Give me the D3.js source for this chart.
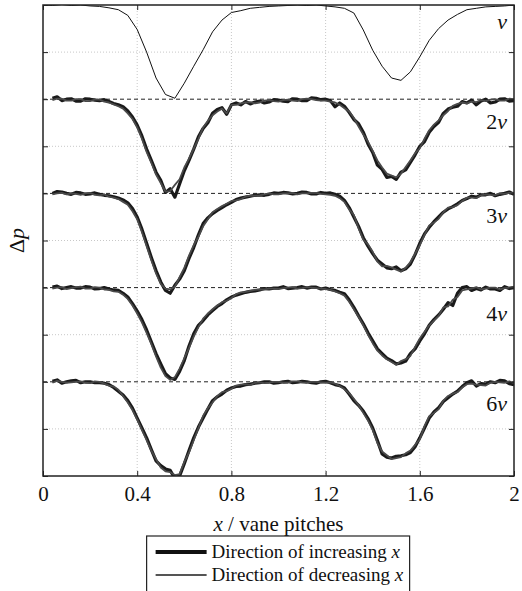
<!DOCTYPE html>
<html>
<head>
<meta charset="utf-8">
<script src="https://cdn.jsdelivr.net/npm/d3@7"></script>
<style>
  body { margin: 0; background: #fff; }
  text { font-family: "Liberation Serif", "Times New Roman", serif; fill: #111; }
</style>
</head>
<body>
<div id="graph"></div>
<script>
// sample positions along the traverse (vane pitches)
var xsCoarse = [0, 0.04, 0.08, 0.12, 0.16, 0.2, 0.24, 0.28, 0.32, 0.36, 0.4, 0.44, 0.48, 0.52, 0.56, 0.6, 0.64, 0.68, 0.72, 0.76,
  0.8, 0.84, 0.88, 0.92, 0.96, 1.0, 1.04, 1.08, 1.12, 1.16, 1.2, 1.24, 1.28, 1.32, 1.36, 1.4, 1.44, 1.48, 1.52, 1.56,
  1.6, 1.64, 1.68, 1.72, 1.76, 1.8, 1.84, 1.88, 1.92, 1.96, 2.0];
var xsFine = [0, 0.02, 0.04, 0.06, 0.08, 0.1, 0.12, 0.14, 0.16, 0.18,
  0.2, 0.22, 0.24, 0.26, 0.28, 0.3, 0.32, 0.34, 0.36, 0.38,
  0.4, 0.42, 0.44, 0.46, 0.48, 0.5, 0.52, 0.54, 0.56, 0.58,
  0.6, 0.62, 0.64, 0.66, 0.68, 0.7, 0.72, 0.74, 0.76, 0.78,
  0.8, 0.82, 0.84, 0.86, 0.88, 0.9, 0.92, 0.94, 0.96, 0.98,
  1.0, 1.02, 1.04, 1.06, 1.08, 1.1, 1.12, 1.14, 1.16, 1.18,
  1.2, 1.22, 1.24, 1.26, 1.28, 1.3, 1.32, 1.34, 1.36, 1.38,
  1.4, 1.42, 1.44, 1.46, 1.48, 1.5, 1.52, 1.54, 1.56, 1.58,
  1.6, 1.62, 1.64, 1.66, 1.68, 1.7, 1.72, 1.74, 1.76, 1.78,
  1.8, 1.82, 1.84, 1.86, 1.88, 1.9, 1.92, 1.94, 1.96, 1.98, 2.0];

// trace names and vertical offsets (grid units)
var traceNames = ["v", "2v", "3v", "4v", "6v"];
var traceOffsets = [0, -2, -4, -6, -8];
var xTicks = [0, 0.4, 0.8, 1.2, 1.6, 2];

// Δp relative to each trace baseline, grid units
var pV = [0.00, -0.01, 0.01, -0.01, 0.00, -0.02, -0.03, -0.06, -0.10, -0.22, -0.52, -1.00, -1.55, -1.90, -1.98, -1.66, -1.30, -0.95, -0.57, -0.32,
  -0.16, -0.12, -0.07, -0.05, -0.03, -0.02, -0.01, 0.00, -0.01, 0.00, -0.02, -0.04, -0.07, -0.17, -0.53, -0.96, -1.30, -1.55, -1.60, -1.42,
  -1.10, -0.75, -0.50, -0.32, -0.20, -0.10, -0.07, -0.04, -0.03, -0.02, 0.00];

var p2vInc = [null, null, 0.02, 0.05, -0.03, 0.00, 0.01, -0.04, -0.04, 0.01,
  0.00, -0.02, -0.03, -0.01, -0.05, -0.09, -0.12, -0.16, -0.25, -0.38,
  -0.55, -0.78, -1.06, -1.30, -1.55, -1.72, -1.98, -1.90, -2.08, -1.80,
  -1.52, -1.30, -1.06, -0.80, -0.62, -0.50, -0.30, -0.22, -0.18, -0.32,
  -0.12, -0.08, -0.12, -0.05, -0.10, -0.06, -0.04, -0.08, -0.06, -0.01,
  -0.02, -0.04, -0.05, 0.01, 0.00, -0.03, -0.03, 0.03, 0.02, -0.01,
  0.00, -0.03, -0.16, -0.08, -0.15, -0.28, -0.43, -0.52, -0.70, -0.95,
  -1.13, -1.40, -1.49, -1.66, -1.64, -1.70, -1.55, -1.50, -1.34, -1.18,
  -1.00, -0.90, -0.70, -0.58, -0.49, -0.30, -0.21, -0.17, -0.15, -0.05,
  -0.08, -0.02, -0.12, -0.04, 0.00, -0.08, -0.06, 0.00, 0.01, -0.04, -0.03];
var p2vDec = [null, null, -0.02, 0.01, 0.01, -0.03, -0.03, 0.00, 0.00, -0.04,
  -0.04, -0.01, -0.01, -0.05, -0.07, -0.11, -0.15, -0.20, -0.30, -0.42,
  -0.60, -0.84, -1.12, -1.35, -1.60, -1.78, -1.96, -1.95, -1.82, -1.70,
  -1.45, -1.26, -1.05, -0.84, -0.60, -0.46, -0.34, -0.26, -0.20, -0.30,
  -0.12, -0.12, -0.09, -0.07, -0.06, -0.09, -0.07, -0.03, -0.02, -0.04,
  -0.05, -0.02, -0.01, -0.03, -0.04, 0.00, 0.01, 0.00, -0.02, -0.03,
  -0.03, -0.05, -0.07, -0.12, -0.19, -0.26, -0.40, -0.58, -0.75, -0.90,
  -1.10, -1.30, -1.45, -1.58, -1.62, -1.66, -1.58, -1.44, -1.30, -1.15,
  -1.04, -0.84, -0.66, -0.54, -0.45, -0.34, -0.25, -0.14, -0.10, -0.07,
  -0.09, -0.05, -0.06, -0.02, -0.04, -0.01, 0.00, -0.03, -0.03, 0.01, 0.00];

var p3vInc = [null, null, 0.00, 0.04, 0.03, 0.00, -0.02, 0.02, 0.01, -0.02,
  -0.01, 0.01, -0.02, -0.04, -0.05, -0.07, -0.10, -0.14, -0.20, -0.32,
  -0.50, -0.76, -1.06, -1.36, -1.64, -1.88, -2.06, -2.12, -1.95, -1.82,
  -1.64, -1.38, -1.15, -0.88, -0.64, -0.52, -0.43, -0.36, -0.30, -0.24,
  -0.19, -0.13, -0.10, -0.08, -0.06, -0.04, -0.03, -0.04, -0.02, 0.01,
  0.00, 0.02, 0.01, -0.01, 0.00, 0.03, 0.02, -0.01, -0.01, 0.02,
  0.00, 0.01, -0.02, -0.06, -0.15, -0.30, -0.50, -0.70, -0.94, -1.12,
  -1.28, -1.42, -1.50, -1.58, -1.60, -1.56, -1.64, -1.60, -1.50, -1.30,
  -1.06, -0.86, -0.72, -0.60, -0.50, -0.40, -0.33, -0.28, -0.22, -0.15,
  -0.11, -0.06, -0.08, -0.03, -0.03, 0.00, -0.05, -0.02, 0.00, 0.03, -0.02];
var p3vDec = [null, null, -0.02, 0.00, 0.01, -0.02, 0.00, -0.01, -0.03, 0.00,
  0.01, -0.03, -0.04, -0.02, -0.07, -0.09, -0.12, -0.18, -0.24, -0.38,
  -0.55, -0.82, -1.12, -1.42, -1.70, -1.92, -2.02, -2.04, -1.98, -1.78,
  -1.58, -1.32, -1.10, -0.92, -0.70, -0.55, -0.40, -0.33, -0.27, -0.22,
  -0.16, -0.15, -0.12, -0.07, -0.05, -0.05, -0.04, -0.02, 0.00, -0.02,
  -0.02, 0.00, 0.00, 0.01, -0.02, 0.00, 0.00, 0.01, 0.01, -0.01,
  -0.02, -0.03, -0.05, -0.10, -0.18, -0.34, -0.46, -0.74, -0.98, -1.08,
  -1.24, -1.45, -1.55, -1.54, -1.57, -1.62, -1.66, -1.58, -1.46, -1.28,
  -1.10, -0.88, -0.68, -0.62, -0.54, -0.40, -0.30, -0.29, -0.25, -0.16,
  -0.09, -0.09, -0.10, -0.04, -0.02, -0.03, -0.04, 0.00, -0.01, 0.01, 0.00];

var p4vInc = [null, null, 0.01, 0.03, -0.02, 0.00, 0.02, -0.01, -0.01, 0.02,
  0.01, -0.03, -0.02, 0.00, -0.03, -0.05, -0.06, -0.12, -0.20, -0.34,
  -0.50, -0.68, -0.90, -1.15, -1.40, -1.62, -1.83, -1.92, -1.95, -1.78,
  -1.55, -1.24, -0.98, -0.80, -0.70, -0.58, -0.49, -0.40, -0.34, -0.26,
  -0.20, -0.16, -0.13, -0.10, -0.08, -0.07, -0.05, -0.02, -0.03, -0.01,
  -0.01, 0.02, -0.02, -0.01, 0.00, 0.02, -0.01, 0.01, 0.01, -0.03,
  -0.01, -0.04, -0.06, -0.10, -0.13, -0.26, -0.42, -0.60, -0.77, -0.96,
  -1.13, -1.30, -1.40, -1.50, -1.55, -1.62, -1.60, -1.56, -1.40, -1.30,
  -1.13, -0.98, -0.80, -0.68, -0.58, -0.46, -0.32, -0.38, -0.12, 0.00,
  0.02, -0.06, -0.02, -0.05, 0.01, -0.03, -0.03, -0.06, 0.02, -0.02, 0.00];
var p4vDec = [null, null, -0.02, 0.00, 0.01, -0.03, -0.01, 0.01, 0.02, -0.02,
  -0.02, 0.01, 0.00, -0.04, -0.05, -0.08, -0.09, -0.15, -0.24, -0.38,
  -0.55, -0.74, -0.96, -1.20, -1.46, -1.70, -1.88, -1.96, -1.90, -1.72,
  -1.50, -1.28, -1.04, -0.84, -0.66, -0.55, -0.46, -0.38, -0.31, -0.28,
  -0.22, -0.14, -0.10, -0.09, -0.07, -0.05, -0.04, -0.04, -0.02, -0.02,
  -0.03, -0.01, 0.00, 0.01, -0.02, -0.01, 0.01, 0.00, -0.01, -0.02,
  -0.03, -0.05, -0.08, -0.12, -0.17, -0.30, -0.46, -0.62, -0.80, -1.00,
  -1.18, -1.34, -1.44, -1.52, -1.58, -1.64, -1.56, -1.52, -1.45, -1.26,
  -1.08, -0.94, -0.80, -0.70, -0.60, -0.42, -0.40, -0.26, -0.20, -0.06,
  -0.04, -0.02, 0.01, -0.04, -0.02, 0.00, 0.00, -0.04, -0.01, 0.00, 0.02];

var p6vInc = [null, null, 0.01, 0.04, -0.03, 0.00, 0.02, 0.03, -0.02, 0.00,
  0.00, -0.02, -0.02, -0.03, -0.06, -0.12, -0.20, -0.28, -0.40, -0.56,
  -0.77, -0.98, -1.19, -1.44, -1.68, -1.78, -1.85, -1.88, -2.05, -2.00,
  -1.74, -1.46, -1.19, -0.96, -0.77, -0.58, -0.40, -0.32, -0.26, -0.18,
  -0.13, -0.10, -0.09, -0.06, -0.05, -0.03, -0.02, 0.00, 0.00, -0.03,
  -0.02, 0.00, 0.01, -0.02, -0.01, 0.01, 0.00, -0.02, -0.03, 0.00,
  0.01, -0.02, -0.06, -0.08, -0.13, -0.26, -0.40, -0.50, -0.62, -0.78,
  -0.98, -1.25, -1.53, -1.60, -1.62, -1.58, -1.57, -1.55, -1.50, -1.38,
  -1.19, -0.98, -0.77, -0.64, -0.55, -0.42, -0.34, -0.26, -0.20, -0.10,
  -0.02, 0.02, -0.09, -0.04, -0.05, 0.00, -0.02, 0.03, 0.02, -0.04, -0.06];
var p6vDec = [null, null, -0.02, 0.02, 0.00, -0.02, -0.01, 0.00, 0.01, -0.02,
  -0.03, 0.01, 0.00, -0.04, -0.08, -0.10, -0.17, -0.30, -0.44, -0.60,
  -0.80, -1.02, -1.24, -1.46, -1.64, -1.82, -1.90, -1.92, -1.98, -1.96,
  -1.70, -1.50, -1.24, -0.98, -0.72, -0.56, -0.44, -0.30, -0.22, -0.20,
  -0.15, -0.08, -0.06, -0.05, -0.07, -0.02, -0.01, -0.03, -0.02, 0.00,
  0.00, -0.02, -0.02, 0.01, 0.01, -0.01, -0.02, 0.00, 0.00, -0.01,
  -0.02, -0.01, -0.04, -0.09, -0.16, -0.24, -0.36, -0.50, -0.66, -0.82,
  -1.02, -1.30, -1.48, -1.56, -1.64, -1.62, -1.60, -1.52, -1.46, -1.34,
  -1.22, -0.94, -0.73, -0.66, -0.58, -0.40, -0.30, -0.25, -0.22, -0.12,
  -0.05, -0.04, -0.06, -0.07, -0.08, -0.02, 0.00, -0.01, -0.02, 0.01, -0.03];

var incSeries = [pV, p2vInc, p3vInc, p4vInc, p6vInc];
var decSeries = [null, p2vDec, p3vDec, p4vDec, p6vDec];

var legendLabels = ["Direction of increasing ", "Direction of decreasing "];

// layout
var W = 522, H = 591;
var margin = {top: 5, right: 8, bottom: 115, left: 43},
    width = W - margin.left - margin.right,
    height = H - margin.top - margin.bottom;

var x = d3.scaleLinear().domain([0, 2]).range([0, width]);
var y = d3.scaleLinear().domain([-10, 0]).range([height, 0]);
var yTicks = d3.range(-10, 1, 1);

var svg = d3.select("#graph").append("svg")
    .attr("width", W)
    .attr("height", H)
  .append("g")
    .attr("transform", "translate(" + margin.left + "," + margin.top + ")");

svg.append("defs").append("clipPath").attr("id", "plotclip")
  .append("rect").attr("width", width).attr("height", height);

// dotted grid
svg.append("g")
  .selectAll("line").data(xTicks.slice(1, -1)).enter().append("line")
    .attr("x1", function(d) { return x(d); }).attr("x2", function(d) { return x(d); })
    .attr("y1", 0).attr("y2", height)
    .attr("stroke", "#c8c8c8").attr("stroke-width", 1).attr("stroke-dasharray", "1,2");

svg.append("g")
  .selectAll("line").data(yTicks.filter(function(d) { return traceOffsets.indexOf(d) < 0 && d !== -10; })).enter().append("line")
    .attr("x1", 0).attr("x2", width)
    .attr("y1", function(d) { return y(d); }).attr("y2", function(d) { return y(d); })
    .attr("stroke", "#c8c8c8").attr("stroke-width", 1).attr("stroke-dasharray", "1,2");

// dashed baselines of the shifted traces
svg.append("g")
  .selectAll("line").data(traceOffsets.slice(1)).enter().append("line")
    .attr("x1", 0).attr("x2", width)
    .attr("y1", function(d) { return y(d); }).attr("y2", function(d) { return y(d); })
    .attr("stroke", "#222").attr("stroke-width", 1).attr("stroke-dasharray", "4,3");

// traces
var plot = svg.append("g").attr("clip-path", "url(#plotclip)");

function traceLine(off, xs) {
  return d3.line()
    .defined(function(d) { return d != null; })
    .x(function(d, i) { return x(xs[i]); })
    .y(function(d) { return y(off + d); });
}

traceOffsets.forEach(function(off, k) {
  var inc = incSeries[k], dec = decSeries[k];
  if (dec == null) {
    plot.append("path").datum(inc)
      .attr("fill", "none").attr("stroke", "#111").attr("stroke-width", 1)
      .attr("d", traceLine(off, xsCoarse));
  } else {
    plot.append("path").datum(inc)
      .attr("fill", "none").attr("stroke", "#1a1a1a").attr("stroke-width", 3.2)
      .attr("stroke-linejoin", "round")
      .attr("d", traceLine(off, xsFine));
    plot.append("path").datum(dec)
      .attr("fill", "none").attr("stroke", "#4a4a4a").attr("stroke-width", 1.8)
      .attr("stroke-linejoin", "round")
      .attr("d", traceLine(off, xsFine));
  }
});

// trace labels
var labelDrop = [0.5, 0.63, 0.63, 0.7, 0.62];
traceNames.forEach(function(name, k) {
  var t = svg.append("text")
    .attr("x", width - 7)
    .attr("y", y(traceOffsets[k] - labelDrop[k]))
    .attr("text-anchor", "end")
    .style("font-size", "22px");
  var pre = name.slice(0, -1);
  if (pre) t.append("tspan").text(pre);
  t.append("tspan").style("font-style", "italic").text("v");
});

// axes with inward ticks
svg.append("g")
  .attr("transform", "translate(0," + height + ")")
  .attr("font-family", "Liberation Serif")
  .call(d3.axisBottom(x).tickValues(xTicks).tickSize(-5).tickPadding(10)
    .tickFormat(function(d) { return d === 0 || d === 2 ? d3.format("d")(d) : d3.format(".1f")(d); }))
  .call(function(g) {
    g.select(".domain").remove();
    g.attr("font-family", "Liberation Serif");
    g.selectAll("text").style("font-size", "21px").attr("fill", "#111");
  });

svg.append("g")
  .call(d3.axisTop(x).tickValues(xTicks).tickSize(-5).tickFormat(""))
  .call(function(g) { g.select(".domain").remove(); });

svg.append("g")
  .call(d3.axisLeft(y).tickValues(yTicks).tickSize(-5).tickFormat(""))
  .call(function(g) { g.select(".domain").remove(); });

svg.append("g")
  .attr("transform", "translate(" + width + ",0)")
  .call(d3.axisRight(y).tickValues(yTicks).tickSize(-5).tickFormat(""))
  .call(function(g) { g.select(".domain").remove(); });

svg.selectAll(".tick line").attr("stroke", "#222");

svg.append("rect")
  .attr("width", width).attr("height", height)
  .attr("fill", "none").attr("stroke", "#222").attr("stroke-width", 1.5);

// axis titles
var xt = svg.append("text")
  .attr("x", x(1)).attr("y", height + 55)
  .attr("text-anchor", "middle").style("font-size", "21px");
xt.append("tspan").style("font-style", "italic").text("x");
xt.append("tspan").text(" / vane pitches");

var yt = svg.append("text")
  .attr("transform", "translate(" + (-19) + "," + y(-5) + ") rotate(-90)")
  .attr("text-anchor", "middle").style("font-size", "22px");
yt.append("tspan").text("Δ");
yt.append("tspan").style("font-style", "italic").text("p");

// legend
var leg = svg.append("g").attr("transform", "translate(" + x(0.44) + "," + (height + 60) + ")");
leg.append("rect")
  .attr("width", 263).attr("height", 60)
  .attr("fill", "#fff").attr("stroke", "#222").attr("stroke-width", 1.2);
legendLabels.forEach(function(lab, i) {
  var ly = 16 + i * 23;
  leg.append("line")
    .attr("x1", 9).attr("x2", 60).attr("y1", ly).attr("y2", ly)
    .attr("stroke", i === 0 ? "#111" : "#555")
    .attr("stroke-width", i === 0 ? 4 : 2);
  var t = leg.append("text").attr("x", 65).attr("y", ly + 6).style("font-size", "19px");
  t.append("tspan").text(lab);
  t.append("tspan").style("font-style", "italic").text("x");
});
</script>
</body>
</html>
